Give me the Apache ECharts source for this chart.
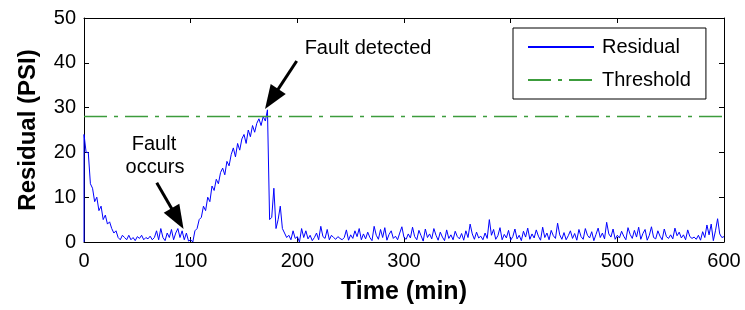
<!DOCTYPE html>
<html>
<head>
<meta charset="utf-8">
<script src="https://cdn.jsdelivr.net/npm/echarts@6/dist/echarts.min.js"></script>
<style>
  html, body { margin: 0; padding: 0; background: #fff; }
  #chart { width: 745px; height: 310px; }
</style>
</head>
<body>
<div id="chart"></div>
<script>
  // residual sampled every 2 min, t = 0 .. 600
  const timeStep = 2;
  const residualStart = [0, 0];
  const residual = [
    // 0 - 40 : start-up decay
    24, 20, 20, 13, 12, 9, 10, 7, 8, 5, 6, 4, 4.5, 3, 2, 2.5, 1, 0.5, 1.5, 1, 0.5,
    // 42 - 98
    1.5, 0.5, 1, 0.3, 1.2, 0.8, 1.5, 0.5, 1, 0.7, 1.3, 0.5, 1, 2.5, 0.5, 3, 1, 0.3, 2, 1,
    2.8, 0.5, 2, 3, 1, 2.5, 0.5, 2, 0.2,
    // 100 - 172 : fault ramp
    0.5, 0, 2.5, 3, 5, 5.5, 8, 7, 10, 9, 12.5, 11.5, 14, 13, 15.5, 16.5, 15, 18, 17, 19.5,
    21, 19, 22, 20.5, 23, 24, 22, 25, 23.5, 26, 24.5, 26.5, 27.5, 26, 28, 27, 29.5,
    // 174 - 190
    5, 5.5, 12, 3, 5, 8, 3, 2, 1,
    // 192 - 600
    1.5, 0.5, 2.5, 0.8, 1.2, 0, 3, 1, 2.5, 0.7, 1.5, 0.3, 1, 2, 0.5, 3.5, 1.2, 0.8, 2.8, 0.5,
    1.5, 1, 0.6, 1.2, 0.8, 0.5, 1, 2.7, 0.4, 1.6,
    0.8, 2.5, 1.2, 3, 0.5, 1.8, 0.7, 2.2, 1, 0.3, 3.5, 1.5, 0.6, 2.8, 1, 3.2, 0.4, 1.7, 2.5, 0.8,
    1.3, 0.5, 2, 3.4, 1,
    0.6, 1.8, 0.9, 3.3, 1.2, 0.5, 2.6, 1.4, 0.2, 2.9, 1, 1.8, 0.7, 3, 1.5, 0.4, 2.2, 1.1, 0.3, 2.7,
    0.8, 1.6, 0.5, 2.4, 1.2,
    0.7, 1.9, 0.4, 2.5, 1, 4, 1.8, 0.6, 2.2, 0.9, 1.3, 0.5, 2, 0.8, 5, 1.5, 2.8, 0.6, 1.4, 3.2,
    0.5, 1.7, 0.9, 2.6, 0.4,
    1.2, 2.9, 0.7, 1.5, 0.3, 2.4, 1.1, 3.1, 0.6, 1.8, 0.9, 2.7, 1.3, 0.4, 3.3, 1, 2, 0.5, 2.6, 1.4,
    0.8, 4.2, 1.6, 0.6, 2.1,
    0.5, 1.4, 2.5, 0.8, 1.9, 0.4, 2.8, 1.2, 0.6, 3, 1.5, 0.9, 2.3, 0.3, 1.7, 3.1, 1, 2, 0.7, 4.4,
    1.8, 1.1, 2.9, 0.6, 1.5,
    0.9, 2.4, 1.3, 0.5, 3.2, 1.7, 0.8, 2.6, 1.1, 3.3, 0.6, 1.9, 2.8, 0.4, 1.5, 3.4, 1, 0.7, 2.5, 1.3,
    0.5, 2.9, 1.2, 0.8, 1.6,
    0.7, 3.1, 1.4, 2.2, 0.9, 1.6, 0.5, 2.7, 1.2, 0.8, 1.1, 0.6, 1.5, 0.4, 2.3, 1, 3.8, 1.6, 4, 0.3,
    2.5, 5.2, 1.8, 1, 1.2
  ];
  const threshold = 28;
  const xTicks = [0, 600, 100];   // min, max, interval
  const yTicks = [0, 50, 10];

  // arrows: [from, to] in data coords (head is centred on "to")
  const occursArrow = [[68.2, 13.2], [87.7, 5.2]];
  const detectedArrow = [[199.4, 40.4], [175.9, 31.9]];

  const font = '"Liberation Sans", Arial, sans-serif';

  const residualData = [residualStart].concat(residual.map((v, i) => [i * timeStep, v]));

  const chart = echarts.init(document.getElementById('chart'), null, {renderer: 'canvas'});

  const axisCommon = {
    type: 'value',
    axisLine: {show: true, onZero: false, lineStyle: {color: '#000', width: 1}},
    axisTick: {show: true, inside: true, length: 5, lineStyle: {color: '#000'}},
    splitLine: {show: false}
  };

  const arrowLine = (a) => [
    {coord: a[0], symbol: 'none'},
    {coord: a[1], symbol: 'triangle', symbolSize: [18, 24]}
  ];

  chart.setOption({
    animation: false,
    grid: {left: 84, right: 21, top: 18, bottom: 65},
    legend: {
      left: 513, top: 28,
      orient: 'vertical',
      padding: [9, 15, 9, 14],
      itemGap: 13,
      itemWidth: 66, itemHeight: 20,
      borderColor: '#000', borderWidth: 1,
      backgroundColor: '#fff',
      itemStyle: {opacity: 0},
      textStyle: {fontFamily: font, fontSize: 20, color: '#000', padding: [0, 0, 0, 3]},
      data: ['Residual', 'Threshold']
    },
    xAxis: [
      Object.assign({}, axisCommon, {
        min: xTicks[0], max: xTicks[1], interval: xTicks[2],
        position: 'bottom',
        axisLabel: {fontFamily: font, fontSize: 20, color: '#000', margin: 9},
        name: 'Time (min)', nameLocation: 'middle', nameGap: 38,
        nameTextStyle: {fontFamily: font, fontSize: 25, fontWeight: 'bold', color: '#000'}
      }),
      Object.assign({}, axisCommon, {
        min: xTicks[0], max: xTicks[1], interval: xTicks[2],
        position: 'top', axisLabel: {show: false}
      })
    ],
    yAxis: [
      Object.assign({}, axisCommon, {
        min: yTicks[0], max: yTicks[1], interval: yTicks[2],
        position: 'left',
        axisLabel: {fontFamily: font, fontSize: 20, color: '#000', margin: 8},
        name: 'Residual (PSI)', nameLocation: 'middle', nameGap: 44,
        nameTextStyle: {fontFamily: font, fontSize: 24, fontWeight: 'bold', color: '#000'}
      }),
      Object.assign({}, axisCommon, {
        min: yTicks[0], max: yTicks[1], interval: yTicks[2],
        position: 'right', axisLabel: {show: false}
      })
    ],
    series: [
      {
        name: 'Residual',
        type: 'line',
        data: residualData,
        symbol: 'none',
        lineStyle: {color: '#0000ff', width: 1},
        itemStyle: {color: '#0000ff'},
        markLine: {
          silent: true,
          animation: false,
          label: {show: false},
          lineStyle: {color: '#000', width: 3, type: 'solid'},
          itemStyle: {color: '#000'},
          emphasis: {disabled: true},
          data: [arrowLine(occursArrow), arrowLine(detectedArrow)]
        }
      },
      {
        name: 'Threshold',
        type: 'line',
        data: [[xTicks[0], threshold], [xTicks[1], threshold]],
        symbol: 'none',
        lineStyle: {color: '#3c9c3c', width: 1.5, type: [23, 7, 4, 7]},
        itemStyle: {color: '#3c9c3c'}
      }
    ],
    graphic: [
      {type: 'text', x: 154, y: 144, style: {text: 'Fault', font: '20px ' + font, fill: '#000', textAlign: 'center', textVerticalAlign: 'middle'}},
      {type: 'text', x: 155, y: 167, style: {text: 'occurs', font: '20px ' + font, fill: '#000', textAlign: 'center', textVerticalAlign: 'middle'}},
      {type: 'text', x: 368, y: 48, style: {text: 'Fault detected', font: '20px ' + font, fill: '#000', textAlign: 'center', textVerticalAlign: 'middle'}}
    ]
  });
</script>
</body>
</html>
